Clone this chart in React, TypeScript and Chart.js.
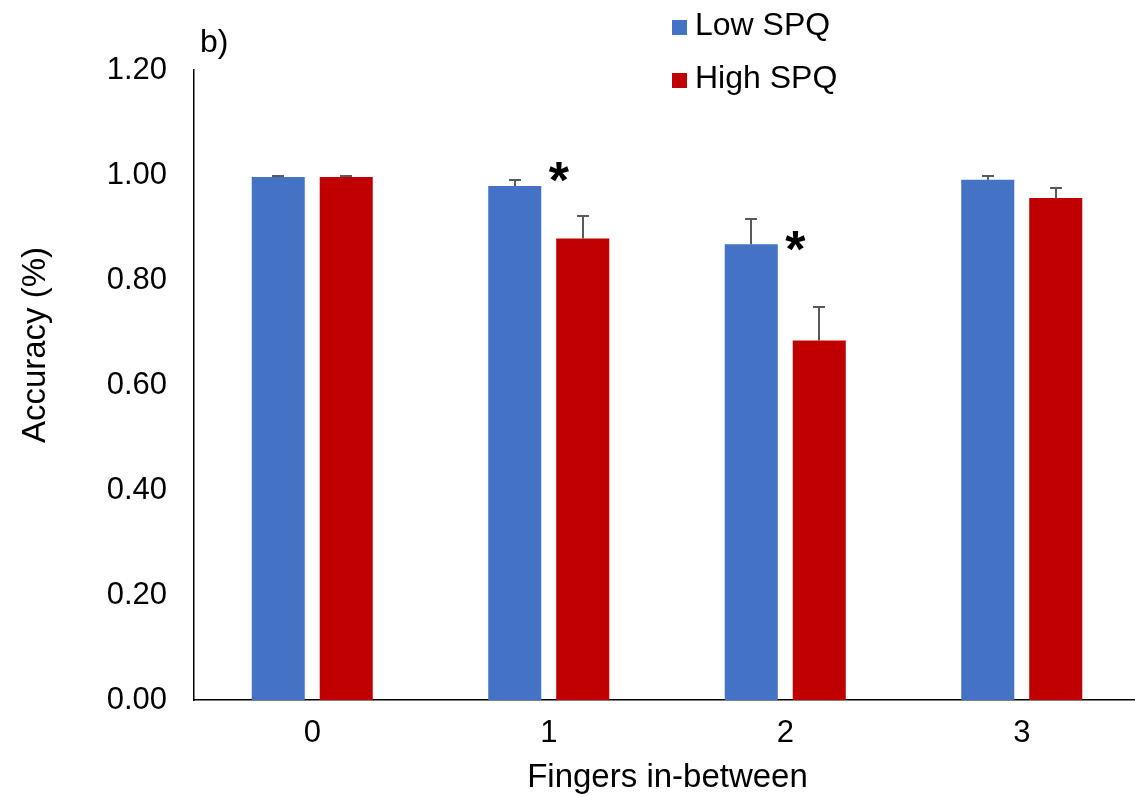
import React, { useEffect, useRef } from "react";
import { Chart, registerables } from "chart.js";

Chart.register(...registerables);

const categories = ["0", "1", "2", "3"];
const lowSPQ = [0.996, 0.979, 0.868, 0.991];
const highSPQ = [0.996, 0.879, 0.685, 0.956];
const lowErr = [0.002, 0.011, 0.049, 0.008];
const highErr = [0.002, 0.042, 0.063, 0.02];
const seriesNames = ["Low SPQ", "High SPQ"];
const yTicks = [0, 0.2, 0.4, 0.6, 0.8, 1.0, 1.2];
const sigIndex = [1, 2];
const sigLevel = [1.011, 0.88];
const yTitle = "Accuracy (%)";
const xTitle = "Fingers in-between";
const panelLabel = "b)";

const BLUE = "#4472C4";
const RED = "#C00000";
const FONT = "'Liberation Sans', Arial, sans-serif";

const overlayPlugin = {
  id: "overlay",
  afterDatasetsDraw(chart: any) {
    const ctx = chart.ctx;
    const y = chart.scales.y;
    const x = chart.scales.x;
    const errs = [lowErr, highErr];
    ctx.save();
    // error bars
    ctx.strokeStyle = "#595959";
    ctx.lineWidth = 2;
    [0, 1].forEach((di) => {
      const meta = chart.getDatasetMeta(di);
      meta.data.forEach((bar: any, i: number) => {
        const v = chart.data.datasets[di].data[i];
        const top = Math.round(y.getPixelForValue(v + errs[di][i]));
        const base = y.getPixelForValue(v);
        const bx = Math.round(bar.x);
        ctx.beginPath();
        ctx.moveTo(bx, base);
        ctx.lineTo(bx, top);
        ctx.moveTo(bx - 6, top);
        ctx.lineTo(bx + 6, top);
        ctx.stroke();
      });
    });
    // asterisks
    ctx.fillStyle = "#000";
    ctx.font = `bold 52px ${FONT}`;
    ctx.textAlign = "center";
    ctx.textBaseline = "alphabetic";
    sigIndex.forEach((idx, k) => {
      const cx = x.getPixelForValue(idx) + 10;
      const cy = y.getPixelForValue(sigLevel[k]);
      ctx.fillText("*", cx, cy + 29);
    });
    // panel label
    ctx.textAlign = "left";
    ctx.font = `32px ${FONT}`;
    ctx.fillText(panelLabel, 200, 52);
    // legend
    const colors = [BLUE, RED];
    seriesNames.forEach((name, k) => {
      const base = 35 + k * 53;
      ctx.fillStyle = colors[k];
      ctx.fillRect(672, base - 15, 15, 15);
      ctx.fillStyle = "#000";
      ctx.fillText(name, 695, base);
    });
    // axis titles
    ctx.font = `33px ${FONT}`;
    ctx.textAlign = "center";
    ctx.fillText(xTitle, (chart.chartArea.left + 1135) / 2 + 3, 787);
    ctx.translate(45, 345);
    ctx.rotate(-Math.PI / 2);
    ctx.fillText(yTitle, 0, 0);
    ctx.restore();
  },
};

export default function App() {
  const ref = useRef<HTMLCanvasElement>(null);
  useEffect(() => {
    const chart = new Chart(ref.current!, {
      type: "bar",
      data: {
        labels: categories,
        datasets: [
          { label: seriesNames[0], data: lowSPQ, backgroundColor: BLUE },
          { label: seriesNames[1], data: highSPQ, backgroundColor: RED },
        ],
      },
      options: {
        animation: false,
        responsive: false,
        devicePixelRatio: 1,
        layout: { padding: { top: 70, right: 0, left: 0, bottom: 0 } },
        datasets: { bar: { categoryPercentage: 0.575, barPercentage: 0.78 } },
        plugins: { legend: { display: false }, tooltip: { enabled: false } },
        scales: {
          x: {
            grid: { display: false, drawTicks: false },
            border: { color: "#000", width: 1.5 },
            ticks: { color: "#000", font: { family: FONT, size: 31 }, padding: 15 },
            afterFit(scale: any) {
              scale.height = 97;
            },
          },
          y: {
            min: 0,
            max: 1.2,
            afterBuildTicks(scale: any) {
              scale.ticks = yTicks.map((v) => ({ value: v }));
            },
            grid: { display: false, drawTicks: false },
            border: { color: "#000", width: 1.5 },
            ticks: {
              color: "#000",
              font: { family: FONT, size: 31 },
              padding: 27,
              callback: (v: any) => Number(v).toFixed(2),
            },
            afterFit(scale: any) {
              scale.width = 194;
            },
          },
        },
      },
      plugins: [overlayPlugin],
    });
    return () => chart.destroy();
  }, []);
  return (
    <div
      style={{
        position: "absolute",
        left: 0,
        top: 0,
        width: 1135,
        height: 797,
        overflow: "hidden",
      }}
    >
      <canvas ref={ref} width={1140} height={797} />
    </div>
  );
}
